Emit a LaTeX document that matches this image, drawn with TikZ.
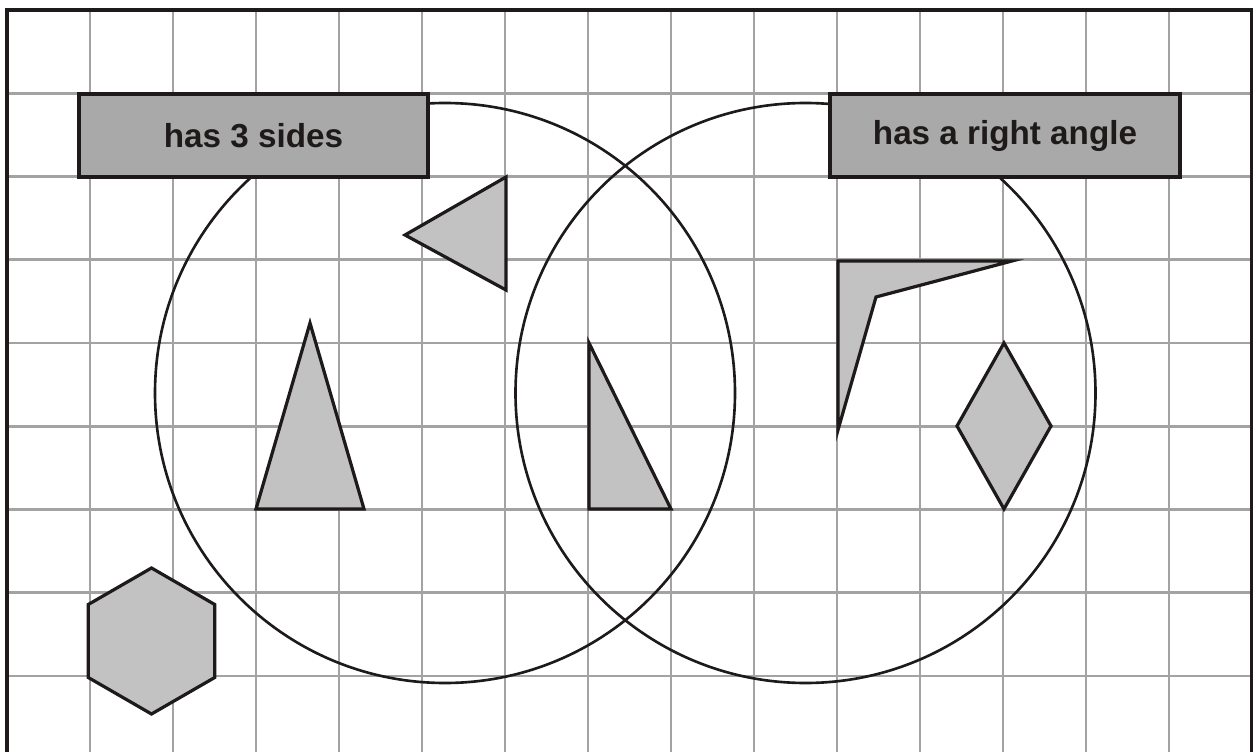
\documentclass[tikz,border=0pt]{standalone}
\usepackage{fontspec}
\setmainfont{Liberation Sans}
\definecolor{gridgray}{HTML}{A3A3A3}
\definecolor{boxgray}{HTML}{A9A9A9}
\definecolor{shapegray}{HTML}{C2C2C2}
\definecolor{inkblack}{HTML}{1E1A1A}
\begin{document}
\begin{tikzpicture}[x=0.012048cm, y=-0.012048cm,
  gridline/.style={draw=gridgray, line width=1pt},
  frameline/.style={draw=inkblack, line width=1.1pt},
  ring/.style={draw=inkblack, line width=0.9pt},
  polyshape/.style={draw=inkblack, fill=shapegray, line width=1.1pt, line join=miter},
  labelbox/.style={draw=inkblack, fill=boxgray, line width=1.1pt, inner sep=0pt,
    minimum height=1cm, font=\fontsize{11.4}{13}\selectfont\bfseries, text=inkblack}]
\useasboundingbox (0,0) rectangle (1253,752);
\fill[white] (0,0) rectangle (1253,752);
% grid
\foreach \k in {1,...,14} {
  \draw[gridline] (7+83*\k,10) -- (7+83*\k,752);
}
\foreach \k in {1,...,8} {
  \draw[gridline] (7,10+83.25*\k) -- (1252,10+83.25*\k);
}
% frame
\draw[frameline] (7,752) -- (7,10) -- (1252,10) -- (1252,752);
% circles
\coordinate (c1) at (445,393);
\coordinate (c2) at (805.5,393);
\draw[ring] (c1) circle [radius=290];
\draw[ring] (c2) circle [radius=290];
% shapes
\draw[polyshape] (506,177) -- (405,235) -- (506,290) -- cycle;
\draw[polyshape] (256,509) -- (364,509) -- (310,323) -- cycle;
\draw[polyshape] (589,343) -- (589,509) -- (671,509) -- cycle;
\draw[polyshape] (838,261) -- (1012,261) -- (876,297) -- (838,430) -- cycle;
\draw[polyshape] (1004,343) -- (1051,426) -- (1004,509) -- (957,426) -- cycle;
\draw[polyshape] (151.5,641) ++(90:73) -- ++(210:73) -- ++(270:73) -- ++(330:73) -- ++(30:73) -- ++(90:73) -- cycle;
% labels
\node[labelbox, minimum width=4.205cm] (lab1) at (253.5,135.5) {has 3 sides};
\node[labelbox, minimum width=4.217cm] (lab2) at (1005,135.5) {has a right angle};
\end{tikzpicture}
\end{document}
